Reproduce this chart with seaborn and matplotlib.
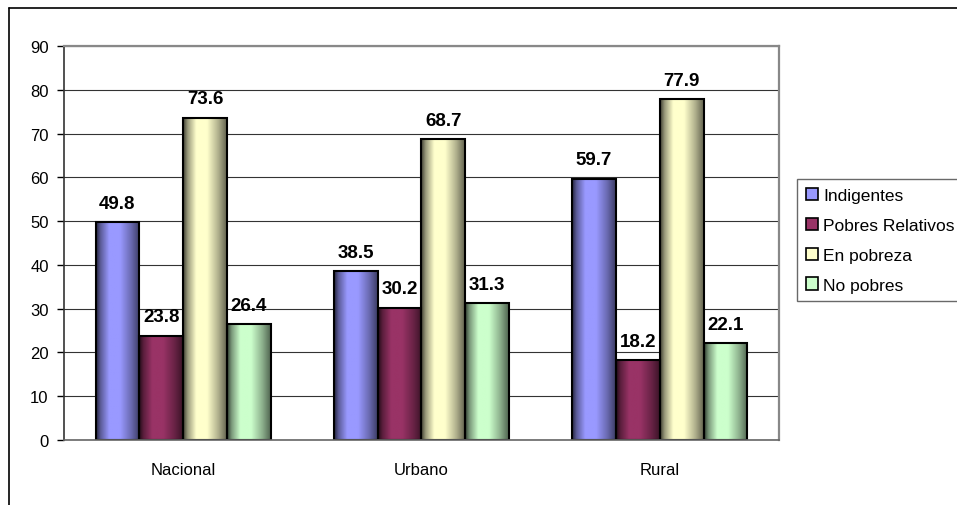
import numpy as np
import pandas as pd
import matplotlib
matplotlib.use("Agg")
import matplotlib.pyplot as plt
import seaborn as sns
from matplotlib.colors import to_rgb
from matplotlib.lines import Line2D
from matplotlib.patches import Patch

# Datos del gráfico
zonas = ["Nacional", "Urbano", "Rural"]
grupos = ["Indigentes", "Pobres Relativos", "En pobreza", "No pobres"]
indigentes = [49.8, 38.5, 59.7]
pobres_relativos = [23.8, 30.2, 18.2]
en_pobreza = [73.6, 68.7, 77.9]
no_pobres = [26.4, 31.3, 22.1]
colores = ["#9999FF", "#993366", "#FFFFCC", "#CCFFCC"]

df = pd.DataFrame({
    "zona": zonas * 4,
    "grupo": np.repeat(grupos, 3),
    "valor": indigentes + pobres_relativos + en_pobreza + no_pobres,
})

sns.set_style("white")
plt.rcParams["font.family"] = ["Liberation Sans", "DejaVu Sans"]
plt.rcParams["text.color"] = "black"
plt.rcParams["xtick.color"] = "black"
plt.rcParams["ytick.color"] = "black"
plt.rcParams["xtick.labelcolor"] = "black"
plt.rcParams["ytick.labelcolor"] = "black"

fig = plt.figure(figsize=(9.57, 5.06), dpi=100)
ax = fig.add_axes([64 / 957, 1 - 441 / 506, (779 - 64) / 957, (441 - 47) / 506])

sns.barplot(data=df, x="zona", y="valor", hue="grupo", order=zonas,
            hue_order=grupos, palette=colores, width=0.735,
            edgecolor="black", linewidth=1.5, ax=ax, legend=False)

# Degradado horizontal estilo Excel en cada barra
perfil_t = [0.0, 0.1, 0.3, 0.55, 0.8, 1.0]
perfil_f = [0.25, 0.6, 1.0, 1.0, 0.7, 0.4]
t = np.linspace(0, 1, 64)
f = np.interp(t, perfil_t, perfil_f)
for cont, col in zip(ax.containers, colores):
    base = np.array(to_rgb(col))
    grad = (base[None, :] * f[:, None])[None, :, :]
    for p in cont:
        x0, y0 = p.get_x(), p.get_y()
        w, h = p.get_width(), p.get_height()
        im = ax.imshow(grad, extent=[x0, x0 + w, y0, y0 + h], aspect="auto",
                       interpolation="bilinear", zorder=1.5)
        im.set_clip_path(p)
        p.set_facecolor("none")
        p.set_zorder(2)
    ax.bar_label(cont, fmt="%.1f", padding=7.5, fontsize=13.5,
                 fontweight="bold", color="black")

ax.set_xlim(-0.5, 2.5)
ax.set_ylim(0, 90)
ax.set_yticks(range(0, 91, 10))
ax.set_xlabel("")
ax.set_ylabel("")
ax.yaxis.grid(True, color="#333333", linewidth=0.8)
ax.set_axisbelow(True)

ax.set_xticks([-0.5, 0.5, 1.5, 2.5], minor=True)
ax.tick_params(axis="x", which="major", length=0, pad=16, labelsize=12)
ax.tick_params(axis="x", which="minor", length=5, width=1, color="#555555",
               direction="out")
ax.tick_params(axis="y", length=5, width=1, color="black", direction="out",
               labelsize=12, pad=6, left=True)

for lado in ["top", "right"]:
    ax.spines[lado].set_visible(True)
    ax.spines[lado].set_color("#888888")
    ax.spines[lado].set_linewidth(1.6)
ax.spines["left"].set_color("#333333")
ax.spines["left"].set_linewidth(1.2)
ax.spines["bottom"].set_color("#666666")
ax.spines["bottom"].set_linewidth(1.2)

handles = [Patch(facecolor=c, edgecolor="black", linewidth=1.2) for c in colores]
leg = ax.legend(handles, grupos, loc="upper left",
                bbox_to_anchor=(797 / 957, 1 - 180 / 506),
                bbox_transform=fig.transFigure, borderaxespad=0,
                fontsize=12.5, frameon=True, fancybox=False,
                handlelength=0.7, handleheight=0.7, handletextpad=0.3,
                labelspacing=0.85, borderpad=0.5)
leg.get_frame().set_edgecolor("#444444")
leg.get_frame().set_linewidth(1.0)

# Marco exterior del gráfico
fig.add_artist(Line2D([8.5 / 957, 1], [1 - 8.5 / 506, 1 - 8.5 / 506],
                      transform=fig.transFigure, color="black", linewidth=1.2))
fig.add_artist(Line2D([8.5 / 957, 8.5 / 957], [0, 1 - 8.5 / 506],
                      transform=fig.transFigure, color="black", linewidth=1.2))

fig.savefig("out.png", dpi=100)
